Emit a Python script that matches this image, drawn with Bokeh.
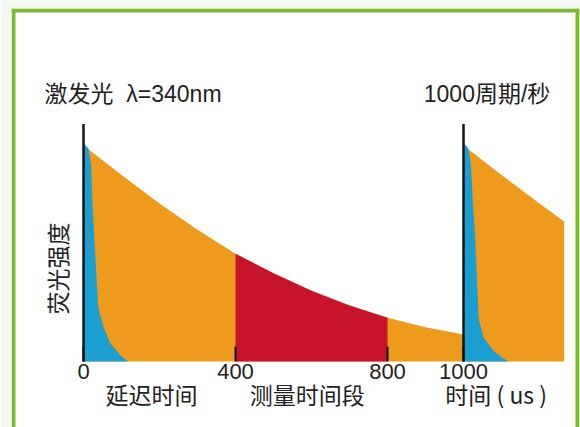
from bokeh.plotting import figure
from bokeh.models import Range1d, LinearAxis, FixedTicker, Label, Span
from bokeh.embed import file_html
from bokeh.resources import INLINE

# ---- data (time in us, intensity in % of peak) ----
decay_t = [0, 100, 200, 300, 400, 500, 600, 700, 800, 900, 1000]
decay_i = [100, 86.4, 73.1, 61, 49.9, 40.9, 32.7, 25.9, 20.2, 15.8, 12.5]
decay2_t = [1000, 1100, 1200, 1265]
decay2_i = [100, 86.4, 73.1, 64.8]
blue1_t = [0, 13, 20, 23, 29, 39, 53, 71, 97, 118]
blue1_i = [101, 98.6, 90.7, 75.5, 55, 25, 15.7, 8.3, 2.8, 0]
blue2_t = [1000, 1013, 1020, 1024, 1031, 1040, 1053, 1079, 1100, 1118]
blue2_i = [101, 98.6, 90, 76, 56, 20, 11, 5, 2, 0]
measure_window = [400, 800]
pulse_t = [0, 1000]
pulse_peak = [110, 110]
tick_values = [0, 400, 800, 1000]
tick_labels = ["0", "400", "800", "1000"]
section_centers = [179, 589, 1086]
section_labels = ["延迟时间", "测量时间段", "时间 ( us )"]
title_left = "激发光\u00a0\u00a0λ=340nm"
title_right = "1000周期/秒"
y_label = "荧光强度"

ORANGE = "#EE9A1C"
RED = "#C8142A"
BLUE = "#1B9ED2"
GREEN = "#7CBA2E"
INK = "#222222"
CJK = "Noto Sans CJK SC"
MIXED = "Liberation Sans, Noto Sans CJK SC"

red_t = [t for t in decay_t if measure_window[0] <= t <= measure_window[1]]
red_i = [v for t, v in zip(decay_t, decay_i) if measure_window[0] <= t <= measure_window[1]]

X0, X1 = -189.47, 1305.26
Y0, Y1 = -30.56, 163.43
p = figure(width=580, height=427, output_backend="svg", toolbar_location=None,
           x_range=Range1d(X0, X1), y_range=Range1d(Y0, Y1),
           x_axis_location=None, y_axis_location=None,
           min_border_left=11, min_border_right=1, min_border_top=8, min_border_bottom=0)
p.grid.visible = False
p.background_fill_color = "white"
p.border_fill_color = "#F2F8EF"
p.outline_line_color = None

# green frame of the picture (left, right, top)
for loc, dim in [(-184.2, "height"), (1300, "height"), (162.5, "width")]:
    p.add_layout(Span(location=loc, dimension=dim, line_color=GREEN, line_width=4))

p.varea(x=decay_t, y1=0, y2=decay_i, fill_color=ORANGE)
p.varea(x=red_t, y1=0, y2=red_i, fill_color=RED)
p.varea(x=decay2_t, y1=0, y2=decay2_i, fill_color=ORANGE)
p.varea(x=blue1_t, y1=0, y2=blue1_i, fill_color=BLUE)
p.varea(x=blue2_t, y1=0, y2=blue2_i, fill_color=BLUE)
p.segment(x0=pulse_t, y0=[0, 0], x1=pulse_t, y1=pulse_peak,
          line_color="#151515", line_width=2.5)

# tick axis on the baseline
xa = LinearAxis(fixed_location=0, ticker=FixedTicker(ticks=tick_values),
                major_label_overrides=dict(zip(tick_values, tick_labels)))
xa.axis_line_color = None
xa.major_tick_in = 15
xa.major_tick_out = 0
xa.major_tick_line_width = 2
xa.major_tick_line_color = "#111111"
xa.minor_tick_line_color = None
xa.major_label_standoff = 3
xa.major_label_text_font = "Liberation Sans"
xa.major_label_text_font_size = "22px"
xa.major_label_text_color = INK
p.add_layout(xa, "below")

# section labels under the time axis
sa = LinearAxis(fixed_location=0, ticker=FixedTicker(ticks=section_centers),
                major_label_overrides=dict(zip(section_centers, section_labels)))
sa.axis_line_color = None
sa.major_tick_in = 0
sa.major_tick_out = 0
sa.minor_tick_line_color = None
sa.major_label_standoff = 16
sa.major_label_text_font = CJK
sa.major_label_text_font_size = "23px"
sa.major_label_text_color = INK
p.add_layout(sa, "below")

# y axis: label only
ya = LinearAxis(fixed_location=0, ticker=FixedTicker(ticks=[]), bounds=(0, 86),
                axis_label=y_label)
ya.axis_line_color = None
ya.major_tick_in = 0
ya.major_tick_out = 0
ya.minor_tick_line_color = None
ya.major_label_text_font_size = "0px"
ya.axis_label_standoff = 10
ya.axis_label_text_font = CJK
ya.axis_label_text_font_size = "23px"
ya.axis_label_text_font_style = "normal"
ya.axis_label_text_color = INK
p.add_layout(ya, "left")

p.add_layout(Label(x=-102.6, y=124, text=title_left, text_align="left", text_baseline="middle",
                   text_font=MIXED, text_font_size="23px", text_color=INK))
p.add_layout(Label(x=1062, y=124, text=title_right, text_align="center", text_baseline="middle",
                   text_font=MIXED, text_font_size="23px", text_color=INK))

open("out.html", "w").write(file_html(p, INLINE))
